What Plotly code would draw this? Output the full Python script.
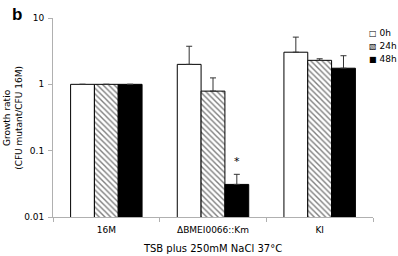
import plotly.graph_objects as go

categories = ["16M", "ΔBMEI0066::Km", "KI"]
series_names = ["0h", "24h", "48h"]
legend_glyphs = ["□", "▧", "■"]
values_0h = [1.0, 2.0, 3.05]
values_24h = [1.0, 0.79, 2.3]
values_48h = [1.0, 0.031, 1.75]
err_0h = [0.0, 1.75, 2.1]
err_24h = [0.0, 0.46, 0.13]
err_48h = [0.0, 0.013, 0.95]
y_tick_vals = [0.01, 0.1, 1, 10]
y_tick_text = ["0.01", "0.1", "1", "10"]

FONT = "DejaVu Sans"
fig = go.Figure()

styles = [
    dict(color="white", pattern=None),
    dict(color="white", pattern=dict(shape="\\", fgcolor="black", bgcolor="white", size=4, solidity=0.35)),
    dict(color="black", pattern=None),
]
vals = [values_0h, values_24h, values_48h]
errs = [err_0h, err_24h, err_48h]
for name, v, e, s in zip(series_names, vals, errs, styles):
    marker = dict(color=s["color"], line=dict(color="black", width=1))
    if s["pattern"] is not None:
        marker["pattern"] = s["pattern"]
    fig.add_trace(go.Bar(
        x=categories, y=v, name=name, marker=marker, showlegend=False,
        error_y=dict(type="data", array=e, arrayminus=[0]*len(e), symmetric=False,
                     color="#333333", thickness=1, width=3, visible=True),
    ))

# significance star above the 48h bar of the mutant
fig.add_annotation(x=categories[1], y=-1.16, yref="y", xref="x", text="*",
                   showarrow=False, xshift=24, font=dict(family=FONT, size=11, color="black"))
# panel letter
fig.add_annotation(x=-0.135, y=1.02, xref="paper", yref="paper", text="<b>b</b>",
                   showarrow=False, xanchor="left", yanchor="middle",
                   font=dict(family="Arial, Liberation Sans", size=17, color="black"))
# y-axis title
fig.add_annotation(x=-0.127, y=0.5, xref="paper", yref="paper",
                   text="Growth ratio<br>(CFU mutant/CFU 16M)", textangle=-90,
                   showarrow=False, xanchor="center", yanchor="middle",
                   font=dict(family=FONT, size=9, color="black"))
# compact legend, as in the original figure
for i, (g, n) in enumerate(zip(legend_glyphs, series_names)):
    fig.add_annotation(x=0.98, y=0.925 - i * 0.0655, xref="paper", yref="paper",
                       text=f"<span style='font-size:8px'>{g}</span> {n}",
                       showarrow=False, xanchor="left", yanchor="middle", align="left",
                       font=dict(family=FONT, size=9, color="black"))

fig.update_layout(
    width=398, height=256,
    margin=dict(l=53, r=25, t=18, b=39, autoexpand=False),
    paper_bgcolor="white", plot_bgcolor="white",
    barmode="group", bargap=0.33, bargroupgap=0.0,
    font=dict(family=FONT, size=9, color="black"),
    showlegend=False,
    xaxis=dict(type="category", showline=True, linecolor="#b0b0b0", linewidth=1,
               ticks="outside", tickson="boundaries", ticklen=4, tickcolor="#b0b0b0",
               tickfont=dict(family=FONT, size=9), ticklabelstandoff=4,
               title=dict(text="TSB plus 250mM NaCl 37°C", font=dict(family=FONT, size=10), standoff=11),
               showgrid=False),
    yaxis=dict(type="log", range=[-2, 1], showline=True, linecolor="#b0b0b0", linewidth=1,
               ticks="outside", ticklen=4, tickcolor="#b0b0b0",
               tickvals=y_tick_vals, ticktext=y_tick_text, showgrid=False, zeroline=False,
               tickfont=dict(family=FONT, size=9), ticklabelstandoff=2),
)

fig.write_html("out.html", config={"displayModeBar": False},
               post_script="document.body.style.margin='0';")
